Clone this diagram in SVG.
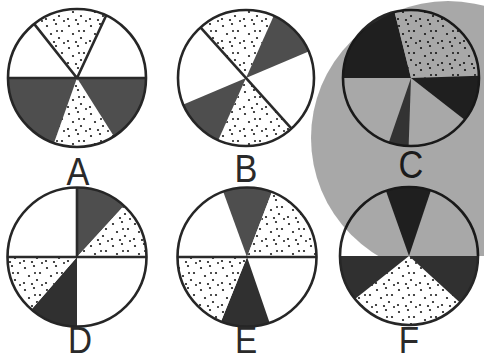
<svg xmlns="http://www.w3.org/2000/svg" width="484" height="361" viewBox="0 0 484 361">
<style>
.rim{fill:none;stroke:#262626;stroke-width:2.6}
.ln{stroke:#2a2a2a;stroke-width:2.6;fill:none}
.wh{fill:#fff}
.dot{fill:url(#dots)}
.dk{fill:#4e4e4e}
.dk2{fill:#303030}
.lbl{font-family:"Liberation Sans",Arial,sans-serif;font-size:39px;fill:#2a2a2a;text-anchor:middle}
.lb2{font-size:37px}
</style>
<defs>
<pattern id="dots" patternUnits="userSpaceOnUse" width="22" height="22">
<rect width="22" height="22" fill="#fff"/>
<g fill="#1a1a1a">
<circle cx="3" cy="4" r="1.1"/><circle cx="12" cy="2" r="1.1"/><circle cx="18" cy="9" r="1.1"/>
<circle cx="7" cy="12" r="1.1"/><circle cx="15" cy="16" r="1.1"/><circle cx="2" cy="19" r="1.1"/>
<circle cx="10" cy="20" r="1.1"/><circle cx="20" cy="21" r="1"/><circle cx="13" cy="9" r="1"/>
</g>
</pattern>
<clipPath id="ovclip"><rect x="0" y="0" width="484" height="256"/></clipPath>
</defs>
<rect width="484" height="361" fill="#fff"/>

<g id="A">
<circle class="wh" cx="77" cy="78" r="69"/>
<path class="dk" d="M8,78 A69,69 0 0 0 146,78 Z"/>
<path class="dot" d="M77,78 L113.87,136.33 A69,69 0 0 1 53.97,143.04 Z"/>
<path class="dot" d="M77,78 L34.14,23.92 A69,69 0 0 1 106.16,15.47 Z"/>
<path class="ln" d="M8,78 H146 M34.14,23.92 L77,78 L106.16,15.47"/>
<circle class="rim" cx="77" cy="78" r="69"/>
<text class="lbl" transform="translate(78,185) scale(0.88,1)">A</text>
</g>

<g id="B">
<circle class="wh" cx="246" cy="78" r="68"/>
<path class="dot" d="M246,78 L200.5,27.47 A68,68 0 0 1 273.66,15.88 Z"/>
<path class="dk" d="M246,78 L273.66,15.88 A68,68 0 0 1 308.6,51.43 Z"/>
<path class="dot" d="M246,78 L291.5,128.53 A68,68 0 0 1 218.34,140.12 Z"/>
<path class="dk" d="M246,78 L218.34,140.12 A68,68 0 0 1 183.4,104.57 Z"/>
<path class="ln" d="M200.5,27.47 L291.5,128.53"/>
<circle class="rim" cx="246" cy="78" r="68"/>
<text class="lbl" transform="translate(246,182) scale(0.88,1)">B</text>
</g>

<g id="C">
<circle class="wh" cx="411" cy="78" r="68"/>
<path class="dk2" d="M411,78 L343,78 A68,68 0 0 1 394.55,12.02 Z"/>
<path class="dot" d="M411,78 L394.55,12.02 A68,68 0 0 1 478.96,75.63 Z"/>
<path class="dk2" d="M411,78 L478.96,75.63 A68,68 0 0 1 464.58,119.87 Z"/>
<path class="dk" d="M411,78 L408.63,145.96 A68,68 0 0 1 388.86,142.29 Z"/>
<circle class="rim" cx="411" cy="78" r="68"/>
<text class="lbl" transform="translate(411,178) scale(0.88,1)">C</text>
</g>

<g id="D">
<circle class="wh" cx="77" cy="257" r="69.5"/>
<path class="dk" d="M77,257 L77,187.5 A69.5,69.5 0 0 1 123.95,205.76 Z"/>
<path class="dot" d="M77,257 L123.95,205.76 A69.5,69.5 0 0 1 146.5,257 Z"/>
<path class="dk2" d="M77,257 L77,326.5 A69.5,69.5 0 0 1 31.4,309.45 Z"/>
<path class="dot" d="M77,257 L31.4,309.45 A69.5,69.5 0 0 1 7.5,257 Z"/>
<path class="ln" d="M7.5,257 H146.5 M77,187.5 V257"/>
<circle class="rim" cx="77" cy="257" r="69.5"/>
<text class="lbl lb2" transform="translate(80,353) scale(0.9,1)">D</text>
</g>

<g id="E">
<circle class="wh" cx="247" cy="257" r="69.5"/>
<path class="dk" d="M247,257 L223.23,191.69 A69.5,69.5 0 0 1 271.91,192.12 Z"/>
<path class="dot" d="M247,257 L271.91,192.12 A69.5,69.5 0 0 1 316.5,257 Z"/>
<path class="dk2" d="M247,257 L269.63,322.71 A69.5,69.5 0 0 1 220.97,321.44 Z"/>
<path class="dot" d="M247,257 L220.97,321.44 A69.5,69.5 0 0 1 177.5,257 Z"/>
<path class="ln" d="M177.5,257 H316.5"/>
<circle class="rim" cx="247" cy="257" r="69.5"/>
<text class="lbl lb2" transform="translate(246,353) scale(0.9,1)">E</text>
</g>

<g id="F">
<circle class="wh" cx="409" cy="256" r="69"/>
<path class="dk2" d="M409,256 L385.97,190.96 A69,69 0 0 1 430.9,190.57 Z"/>
<path class="dk2" d="M340,256 A69,69 0 0 0 478,256 Z"/>
<path class="dot" d="M409,256 L459.87,302.62 A69,69 0 0 1 355,298.95 Z"/>
<circle class="rim" cx="409" cy="256" r="69"/>
<text class="lbl lb2" transform="translate(409,353) scale(0.9,1)">F</text>
</g>

<g id="overlay">
<circle cx="448" cy="138" r="137" fill="#000" fill-opacity="0.34" clip-path="url(#ovclip)"/>
</g>

<g id="connectors"/>
</svg>
